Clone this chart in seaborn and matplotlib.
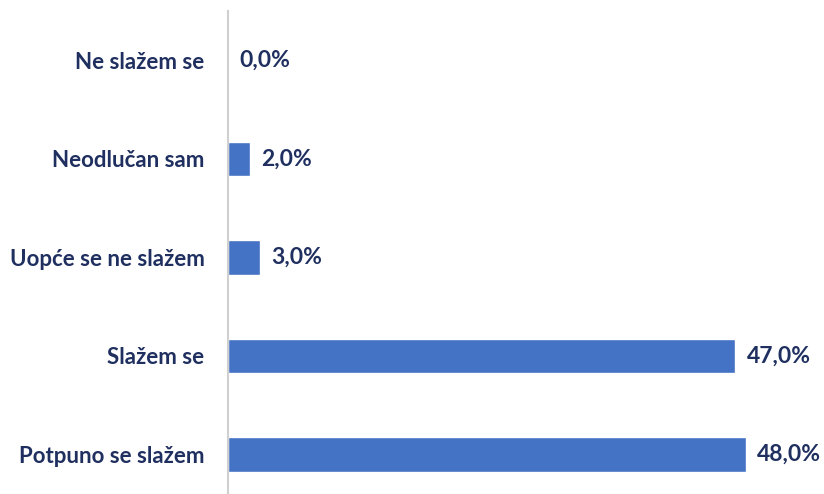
import matplotlib
matplotlib.use("Agg")
import matplotlib.pyplot as plt
import seaborn as sns
import pandas as pd

categories = ["Ne slažem se", "Neodlučan sam", "Uopće se ne slažem", "Slažem se", "Potpuno se slažem"]
values = [0.0, 2.0, 3.0, 47.0, 48.0]

sns.set_theme(style="white")
plt.rcParams['font.family'] = ['Lato', 'DejaVu Sans']

text_color = "#1F2F5F"
bar_color = "#4472C4"

df = pd.DataFrame({"Odgovor": categories, "Postotak": values})

fig = plt.figure(figsize=(8.24, 4.94), dpi=100)
ax = fig.add_axes([228 / 824, 0.0, 1 - 228 / 824, 1 - 11 / 494])

sns.barplot(data=df, y="Odgovor", x="Postotak", color=bar_color, saturation=1,
            width=0.35, ax=ax)

for container in ax.containers:
    ax.bar_label(container, labels=[f"{v:.1f}".replace(".", ",") + "%" for v in values],
                 padding=8, fontsize=16.5, fontweight="bold", color=text_color)

ax.set_xlim(0, 55.2)
ax.set_ylim(4.4, -0.5)
ax.set_xlabel("")
ax.set_ylabel("")
ax.set_xticks([])
ax.tick_params(axis="y", length=0, pad=17, labelsize=16, labelcolor=text_color)
for lbl in ax.get_yticklabels():
    lbl.set_fontweight("bold")

for side in ["top", "right", "bottom"]:
    ax.spines[side].set_visible(False)
ax.spines["left"].set_color("#D0D0D0")
ax.spines["left"].set_linewidth(1.5)

fig.savefig("out.png", dpi=100)
